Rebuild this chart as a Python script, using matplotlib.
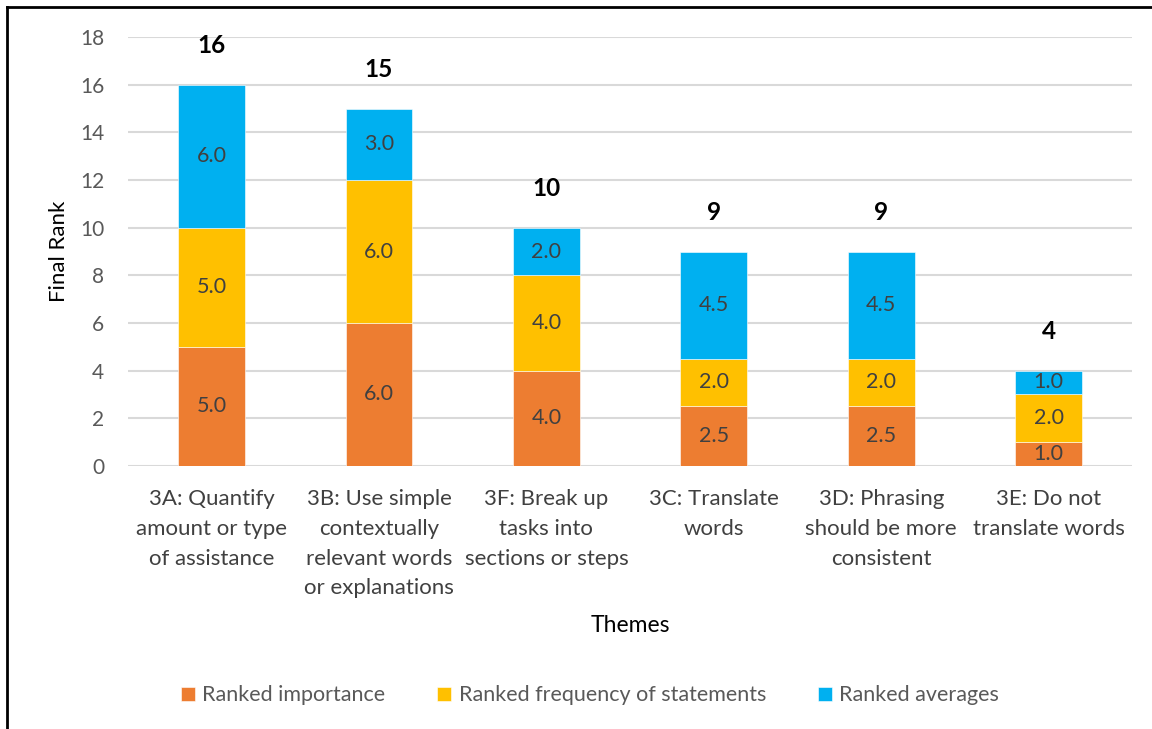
import matplotlib.pyplot as plt
import numpy as np

themes = ['3A: Quantify\namount or type\nof assistance',
          '3B: Use simple\ncontextually\nrelevant words\nor explanations',
          '3F: Break up\ntasks into\nsections or steps',
          '3C: Translate\nwords',
          '3D: Phrasing\nshould be more\nconsistent',
          '3E: Do not\ntranslate words']
importance = [5.0, 6.0, 4.0, 2.5, 2.5, 1.0]
frequency = [5.0, 6.0, 4.0, 2.0, 2.0, 2.0]
averages = [6.0, 3.0, 2.0, 4.5, 4.5, 1.0]

plt.rcParams['font.family'] = ['Lato', 'DejaVu Sans']

fig = plt.figure(figsize=(11.52, 7.29), dpi=100)
ax = fig.add_axes([0.111, 0.361, 0.872, 0.588])

x = np.arange(len(themes))
imp = np.array(importance)
freq = np.array(frequency)
avg = np.array(averages)
totals = imp + freq + avg

series = [
    (imp, np.zeros(len(x)), '#ED7D31', 'Ranked importance'),
    (freq, imp, '#FFC000', 'Ranked frequency of statements'),
    (avg, imp + freq, '#00B0F0', 'Ranked averages'),
]
for vals, base, color, label in series:
    bars = ax.bar(x, vals, 0.4, bottom=base, color=color, label=label,
                  edgecolor='white', linewidth=0.4, zorder=3)
    for b, v in zip(bars, vals):
        ax.text(b.get_x() + b.get_width() / 2, b.get_y() + v / 2, f'{v:.1f}',
                ha='center', va='center', fontsize=15.5, color='#404040', zorder=4)

for xi, t in zip(x, totals):
    ax.annotate(f'{t:g}', (xi, t), xytext=(0, 28), textcoords='offset points',
                ha='center', va='center', fontsize=17.5, fontweight='bold', color='black')

ax.set_xlim(-0.5, len(themes) - 0.5)
ax.set_ylim(0, 18)
ax.set_yticks(range(0, 19, 2))
ax.grid(axis='y', color='#D9D9D9', linewidth=1.5, zorder=0)
ax.set_axisbelow(True)
for s in ax.spines.values():
    s.set_visible(False)
ax.tick_params(length=0, labelsize=15, colors='#595959')
ax.tick_params(axis='y', pad=17)
ax.tick_params(axis='x', pad=17)
ax.set_xticks(x)
ax.set_xticklabels(themes, fontsize=16, color='#404040', linespacing=1.6, va='top')
ax.set_ylabel('Final Rank', fontsize=16, color='black', labelpad=8)
ax.set_xlabel('Themes', fontsize=16.5, color='black', labelpad=12)

fig.legend(loc='center', bbox_to_anchor=(0.512, 0.046), ncol=3, frameon=False,
           fontsize=15.5, handlelength=0.65, handleheight=0.65, handletextpad=0.35,
           columnspacing=2.4, labelcolor='#595959')

# partial frame around the chart
fig.add_artist(plt.Line2D([0.0065, 0.0065], [0, 0.991], color='black', linewidth=2,
                          transform=fig.transFigure))
fig.add_artist(plt.Line2D([0.0065, 1.0], [0.991, 0.991], color='black', linewidth=2,
                          transform=fig.transFigure))

fig.savefig('out.png', dpi=100)
plt.close(fig)
